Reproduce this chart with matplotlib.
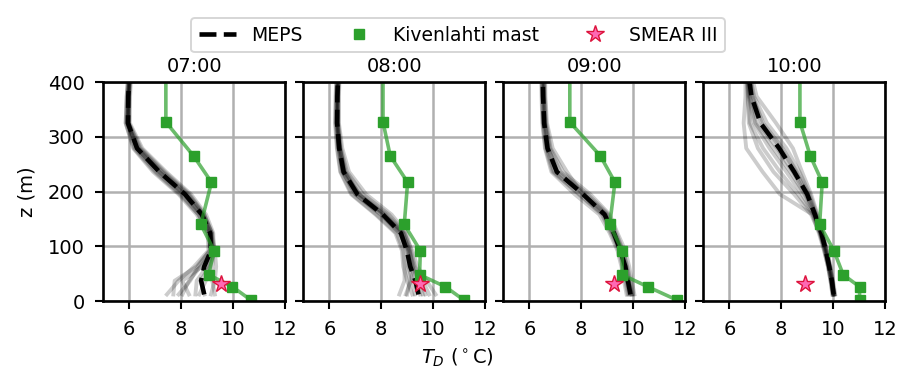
import numpy as np
import matplotlib
matplotlib.use('Agg')
import matplotlib.pyplot as plt
from matplotlib.lines import Line2D

# Times of the four profiles
TIMES = ['07:00', '08:00', '09:00', '10:00']

# MEPS model level heights (m)
Z_MODEL = [12, 37, 63, 92, 124, 158, 195, 236, 279, 325, 374, 427]

# MEPS control (dashed) profiles, one per time
MEPS_MAIN = [
    [8.89, 8.77, 8.89, 9.15, 9.12, 8.80, 8.15, 7.16, 6.30, 5.95, 5.96, 6.03],
    [9.44, 9.32, 9.12, 8.99, 8.76, 8.06, 7.08, 6.55, 6.38, 6.30, 6.31, 6.35],
    [9.90, 9.80, 9.70, 9.51, 9.26, 8.90, 8.07, 7.06, 6.70, 6.57, 6.53, 6.51],
    [10.02, 9.95, 9.85, 9.72, 9.55, 9.30, 9.00, 8.50, 7.92, 7.20, 6.85, 6.70],
]

# MEPS ensemble members
MEPS_MEMBERS_0700 = [
    [7.45, 7.90, 8.50, 9.05, 9.02, 8.60, 7.90, 6.92, 6.15, 5.86, 5.90, 5.98],
    [7.70, 7.75, 8.60, 9.10, 9.18, 8.90, 8.32, 7.36, 6.45, 5.98, 5.99, 6.06],
    [8.05, 8.30, 8.75, 9.20, 9.05, 8.66, 7.95, 6.98, 6.18, 5.86, 5.90, 5.98],
    [8.30, 8.05, 8.80, 9.25, 9.24, 8.96, 8.38, 7.42, 6.50, 6.02, 6.03, 6.09],
    [8.55, 8.60, 9.00, 9.22, 9.10, 8.76, 8.10, 7.14, 6.29, 5.93, 5.95, 6.02],
    [8.90, 8.75, 9.10, 9.30, 9.14, 8.80, 8.15, 7.18, 6.31, 5.94, 5.96, 6.03],
    [9.15, 9.30, 9.35, 9.30, 9.20, 8.88, 8.28, 7.30, 6.40, 5.98, 6.00, 6.07],
    [9.30, 9.20, 9.20, 9.25, 9.12, 8.79, 8.12, 7.15, 6.30, 5.93, 5.96, 6.03],
    [7.90, 8.35, 8.65, 9.10, 9.05, 8.68, 8.00, 7.04, 6.22, 5.90, 5.93, 6.00],
    [8.70, 8.95, 9.05, 9.20, 9.18, 8.85, 8.22, 7.25, 6.36, 5.95, 5.97, 6.04],
]
MEPS_MEMBERS_0800 = [
    [8.70, 8.90, 8.90, 8.85, 8.60, 7.82, 6.88, 6.44, 6.31, 6.24, 6.26, 6.30],
    [9.00, 9.10, 9.00, 8.95, 8.75, 8.00, 7.02, 6.52, 6.36, 6.28, 6.29, 6.33],
    [9.30, 9.20, 9.05, 9.05, 8.85, 8.15, 7.15, 6.60, 6.41, 6.32, 6.33, 6.37],
    [9.60, 9.45, 9.20, 9.10, 8.92, 8.30, 7.30, 6.68, 6.45, 6.35, 6.35, 6.39],
    [9.85, 9.60, 9.30, 9.15, 8.98, 8.40, 7.42, 6.76, 6.50, 6.37, 6.37, 6.41],
    [10.10, 9.75, 9.40, 9.20, 8.88, 8.20, 7.18, 6.62, 6.42, 6.33, 6.33, 6.37],
    [9.20, 9.00, 8.85, 8.80, 8.55, 7.78, 6.84, 6.42, 6.29, 6.22, 6.24, 6.29],
    [9.50, 9.35, 9.15, 9.00, 8.78, 8.08, 7.10, 6.57, 6.39, 6.30, 6.31, 6.35],
    [8.95, 9.15, 9.25, 9.10, 8.82, 8.12, 7.12, 6.58, 6.40, 6.31, 6.32, 6.36],
    [9.70, 9.50, 9.25, 9.05, 8.70, 7.98, 7.00, 6.50, 6.35, 6.27, 6.28, 6.32],
]
MEPS_MEMBERS_0900 = [
    [9.75, 9.65, 9.55, 9.40, 9.10, 8.70, 7.75, 6.85, 6.60, 6.50, 6.47, 6.45],
    [9.85, 9.75, 9.65, 9.50, 9.20, 8.85, 7.95, 6.95, 6.66, 6.54, 6.50, 6.48],
    [9.95, 9.85, 9.75, 9.60, 9.30, 9.00, 8.15, 7.10, 6.74, 6.60, 6.56, 6.54],
    [10.05, 9.95, 9.85, 9.70, 9.40, 9.10, 8.35, 7.30, 6.82, 6.65, 6.60, 6.58],
    [9.95, 9.82, 9.70, 9.52, 9.22, 8.90, 8.05, 7.45, 6.90, 6.68, 6.62, 6.60],
    [9.80, 9.70, 9.60, 9.45, 9.15, 8.80, 7.90, 6.90, 6.62, 6.52, 6.49, 6.47],
    [10.00, 9.90, 9.78, 9.62, 9.35, 9.05, 8.25, 7.20, 6.78, 6.62, 6.57, 6.55],
    [9.90, 9.78, 9.68, 9.55, 9.28, 8.95, 8.10, 7.05, 6.72, 6.58, 6.54, 6.52],
]
MEPS_MEMBERS_1000 = [
    [9.98, 9.90, 9.80, 9.65, 9.45, 9.20, 7.95, 7.28, 6.65, 6.55, 6.62, 6.62],
    [10.00, 9.92, 9.82, 9.68, 9.48, 9.15, 8.50, 7.70, 7.10, 6.75, 6.70, 6.65],
    [10.05, 9.97, 9.88, 9.75, 9.58, 9.35, 9.05, 8.60, 8.05, 7.30, 6.90, 6.72],
    [10.08, 10.00, 9.90, 9.78, 9.60, 9.40, 9.15, 8.80, 8.45, 7.80, 7.05, 6.78],
    [10.03, 9.95, 9.85, 9.72, 9.55, 9.30, 8.95, 8.45, 7.85, 7.10, 6.80, 6.68],
    [10.00, 9.93, 9.83, 9.70, 9.52, 9.25, 8.80, 8.20, 7.55, 6.95, 6.75, 6.66],
    [10.06, 9.98, 9.88, 9.75, 9.57, 9.38, 9.10, 8.70, 8.20, 7.45, 6.95, 6.74],
    [9.97, 9.90, 9.80, 9.66, 9.50, 9.28, 8.90, 8.35, 7.70, 7.00, 6.78, 6.67],
    [10.04, 9.96, 9.86, 9.74, 9.56, 9.33, 9.00, 8.55, 8.00, 7.25, 6.88, 6.70],
    [10.02, 9.94, 9.84, 9.70, 9.50, 9.22, 8.65, 7.95, 7.30, 6.80, 6.72, 6.66],
]
MEPS_MEMBERS = [MEPS_MEMBERS_0700, MEPS_MEMBERS_0800,
                MEPS_MEMBERS_0900, MEPS_MEMBERS_1000]

# Kivenlahti mast observation heights (m) and dew point temperatures
Z_MAST = [2, 26, 48, 92, 140, 217, 265, 327, 450]
MAST_TD = [
    [10.68, 9.98, 9.06, 9.27, 8.76, 9.17, 8.48, 7.41, 7.41],
    [11.18, 10.48, 9.48, 9.51, 8.89, 9.02, 8.35, 8.07, 8.07],
    [11.68, 10.57, 9.58, 9.58, 9.10, 9.30, 8.74, 7.56, 7.56],
    [11.02, 11.02, 10.39, 10.03, 9.48, 9.58, 9.12, 8.72, 8.72],
]

# SMEAR III tower point
Z_SMEAR = 31
SMEAR_TD = [9.54, 9.48, 9.26, 8.90]

GREEN = '#2ca02c'
FS = 14

plt.rcParams.update({
    'font.size': FS,
    'xtick.major.size': 5.5,
    'ytick.major.size': 5.5,
    'xtick.major.pad': 8,
    'ytick.major.pad': 8,
    'xtick.major.width': 1.5,
    'ytick.major.width': 1.5,
    'axes.linewidth': 1.9,
})

fig, axes = plt.subplots(1, 4, sharey=True, figsize=(8.98, 3.73), dpi=100)
fig.subplots_adjust(left=0.1151, right=0.9855, bottom=0.193, top=0.780,
                    wspace=0.102)

for i, ax in enumerate(axes):
    # ensemble members, control run, then the observations on top
    for member in MEPS_MEMBERS[i]:
        ax.plot(member, Z_MODEL, color='k', alpha=0.2, lw=2.8)
    ax.plot(MEPS_MAIN[i], Z_MODEL, color='k', ls='--', lw=3.3)

    ax.plot(MAST_TD[i], Z_MAST, color=GREEN, alpha=0.7, lw=2.6)
    ax.plot(MAST_TD[i], Z_MAST, color=GREEN, ls='none', marker='s', ms=6.8)

    ax.plot(SMEAR_TD[i], Z_SMEAR, ls='none', marker='*', ms=13,
            mfc='hotpink', mec='crimson', mew=1.0, zorder=5)

    ax.set_title(TIMES[i], fontsize=FS, pad=7)
    ax.set_xlim(5, 12)
    ax.set_ylim(0, 400)
    ax.set_xticks([6, 8, 10, 12])
    ax.set_yticks([0, 100, 200, 300, 400])
    ax.grid(True, color='#b0b0b0', lw=1.8)
    ax.set_axisbelow(True)

axes[0].set_ylabel('z (m)', labelpad=8)
fig.text(0.51, 0.04, r'$T_D$ ($^\circ$C)', ha='center', va='center',
         fontsize=FS)

handles = [
    Line2D([], [], color='k', ls='--', lw=3.3),
    Line2D([], [], color=GREEN, ls='none', marker='s', ms=6.8),
    Line2D([], [], ls='none', marker='*', ms=13, mfc='hotpink',
           mec='crimson', mew=1.0),
]
leg = fig.legend(handles, ['MEPS', 'Kivenlahti mast', 'SMEAR III'],
                 loc='upper center', bbox_to_anchor=(0.51, 0.976), ncol=3,
                 fontsize=13.5)
leg.get_frame().set_linewidth(1.4)

fig.savefig('out.png', dpi=100)
